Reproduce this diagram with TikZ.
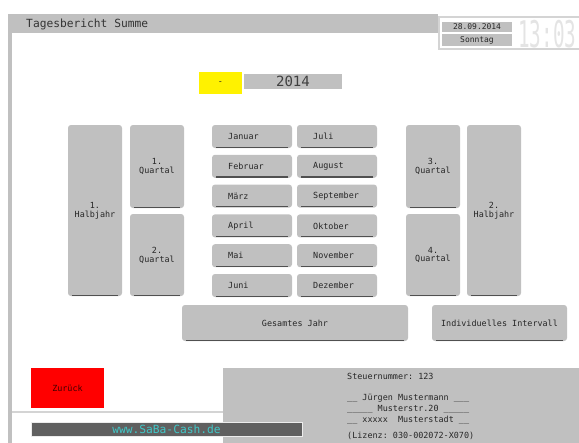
\documentclass[tikz,border=0pt]{standalone}
\usepackage{fontspec}
\setmonofont{DejaVu Sans Mono}
\usetikzlibrary{calc}

\definecolor{knopfgrau}{RGB}{192,192,192}
\definecolor{kantegrau}{RGB}{80,80,80}
\definecolor{randgrau}{RGB}{212,212,212}
\definecolor{balkengrau}{RGB}{96,96,96}
\definecolor{webtuerkis}{RGB}{64,200,200}
\definecolor{zeitgrau}{RGB}{228,228,228}

% Knopf: Name, x1, y1, x2, y2, Text
\newcommand\knopf[6]{%
  \fill[knopfbox] (#2,#3) rectangle (#4,#5);
  \draw[knopfkante] ($(#2,#5)+(4,-0.8)$) -- ($(#4,#5)+(-4,-0.8)$);
  \node[knopftext] (#1) at ($(#2,#3)!0.5!(#4,#5)$) {#6};}

% Monat: Name, x1, y1, Text
\newcommand\monat[4]{%
  \fill[knopfbox] (#2,#3) rectangle ++(80,23);
  \draw[knopfkante] ($(#2,#3)+(4,22.2)$) -- ($(#2,#3)+(76,22.2)$);
  \node[knopftext,anchor=west] (#1) at ($(#2,#3)+(16,11.5)$) {#4};}

\begin{document}
\begin{tikzpicture}[x=0.03cm,y=-0.03cm]

\tikzset{
    knopfbox/.style={fill=knopfgrau,rounded corners=2.5pt},
    knopfkante/.style={draw=kantegrau,line width=1pt},
    knopftext/.style={font=\ttfamily\fontsize{7.2}{7.6}\selectfont,text=black!85,align=center,inner sep=0pt},
    infotext/.style={font=\ttfamily\fontsize{7.2}{7.6}\selectfont,text=black!85,anchor=west,inner sep=0pt}}

\useasboundingbox (0,0) rectangle (579,443);

% Rahmen und Titel
\fill[knopfgrau] (8,14) rectangle (438,33);
\fill[knopfgrau] (8,14) rectangle (12,443);
\node[font=\ttfamily\fontsize{9.6}{10}\selectfont,text=black!80,anchor=west,inner sep=0pt] (titel) at (26,24) {Tagesbericht Summe};

% Datum und Uhrzeit
\draw[randgrau,line width=1.5pt,fill=white] (439,17) rectangle (585,49);
\fill[knopfgrau] (442,22) rectangle (512,32);
\fill[knopfgrau] (442,34) rectangle (512,46);
\node[knopftext,font=\ttfamily\fontsize{6.8}{7}\selectfont] (datum) at (477,27) {28.09.2014};
\node[knopftext,font=\ttfamily\fontsize{6.8}{7}\selectfont] (wochentag) at (477,40) {Sonntag};
\node[font=\ttfamily\fontsize{16.5}{17}\selectfont,text=zeitgrau,anchor=west,inner sep=0pt] (uhrzeit) at (518,34) {\scalebox{1}[1.9]{13:03}};

% Jahr
\fill[yellow] (199,72) rectangle (242,94);
\node[knopftext] (minus) at (220.5,83) {-};
\fill[knopfgrau] (244,74) rectangle (342,89);
\node[knopftext,font=\ttfamily\fontsize{12}{12}\selectfont,text=black!75] (jahr) at (293,81.5) {2014};

% Halbjahre und Quartale
\knopf{hj1}{68}{125}{122}{296}{1.\\Halbjahr}
\knopf{q1}{130}{125}{184}{208}{1.\\Quartal}
\knopf{q2}{130}{214}{184}{296}{2.\\Quartal}
\knopf{q3}{406}{125}{460}{208}{3.\\Quartal}
\knopf{q4}{406}{214}{460}{296}{4.\\Quartal}
\knopf{hj2}{467}{125}{521}{296}{2.\\Halbjahr}

% Monate
\foreach \m [count=\i from 0] in {Januar,Februar,März,April,Mai,Juni}
    \monat{ma\i}{212}{125+29.8*\i}{\m};
\foreach \m [count=\i from 0] in {Juli,August,September,Oktober,November,Dezember}
    \monat{mb\i}{297}{125+29.8*\i}{\m};

\knopf{jahrganz}{182}{305}{408}{341}{Gesamtes Jahr}
\knopf{intervall}{432}{305}{567}{341}{Individuelles Intervall}

% Fuss
\fill[red] (31,368) rectangle (104,408);
\node[knopftext,text=red!25!black] (zurueck) at (67.5,388) {Zurück};
\fill[randgrau] (12,411) rectangle (223,413);
\fill[knopfgrau] (223,368) rectangle (579,443);
\draw[white!85!gray,line width=0.8pt,fill=balkengrau] (31,422) rectangle (302,436);
\node[font=\ttfamily\fontsize{9.6}{10}\selectfont,text=webtuerkis,inner sep=0pt] (web) at (166.5,429) {www.SaBa-Cash.de};

\node[infotext] (steuer) at (347,376) {Steuernummer: 123};
\node[infotext] (name) at (347,398) {\_\_ Jürgen Mustermann \_\_\_};
\node[infotext] (strasse) at (347,409) {\_\_\_\_\_ Musterstr.20 \_\_\_\_\_};
\node[infotext] (ort) at (347,420) {\_\_ xxxxx~~Musterstadt \_\_};
\node[infotext] (lizenz) at (347,436) {(Lizenz: 030-002072-X070)};

\end{tikzpicture}
\end{document}
